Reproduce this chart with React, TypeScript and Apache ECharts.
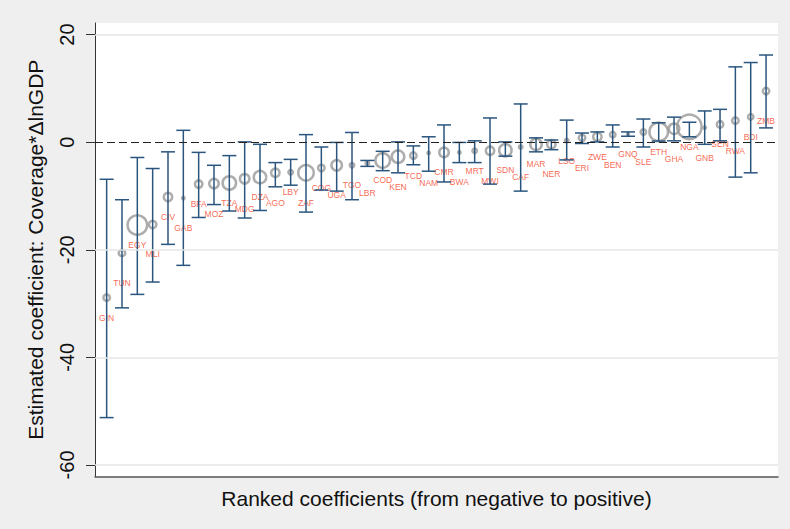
import React, { useEffect, useRef } from "react";
import * as echarts from "echarts";

const countries = [
  "GIN", "TUN", "EGY", "MLI", "CIV", "GAB", "BFA", "MOZ", "TZA", "MDG", "DZA",
  "AGO", "LBY", "ZAF", "COG", "UGA", "TGO", "LBR", "COD", "KEN", "TCD", "NAM",
  "CMR", "BWA", "MRT", "MWI", "SDN", "CAF", "MAR", "NER", "LSO", "ERI", "ZWE",
  "BEN", "GNQ", "SLE", "ETH", "GHA", "NGA", "GNB", "SEN", "RWA", "BDI", "ZMB",
];

const coefficients = [
  -28.9, -20.6, -15.4, -15.3, -10.2, -10.4, -7.8, -7.7, -7.6, -6.8, -6.5,
  -5.7, -5.6, -5.7, -4.8, -4.3, -4.3, -3.9, -3.4, -2.7, -2.5, -2.0,
  -1.9, -1.9, -1.6, -1.6, -1.5, -0.9, -0.4, -0.4, 0.3, 0.8, 1.0,
  1.4, 1.5, 1.9, 1.9, 2.5, 2.85, 2.7, 3.3, 4.0, 4.7, 9.5,
];

const lowerBounds = [
  -51.2, -30.8, -28.3, -26.0, -19.0, -22.9, -14.0, -11.6, -12.8, -14.1, -12.7,
  -8.3, -8.0, -13.0, -8.9, -9.1, -10.7, -4.5, -5.3, -5.7, -4.2, -5.4,
  -7.4, -3.8, -3.8, -7.8, -2.6, -9.1, -1.8, -1.4, -3.3, -0.25, 0.05,
  -0.9, 1.1, -0.9, 0.2, 0.25, 1.0, -0.4, 0.25, -6.5, -5.7, 2.65,
];

const upperBounds = [
  -6.9, -10.7, -2.85, -4.9, -1.8, 2.2, -1.9, -4.3, -2.5, 0.05, -0.4,
  -3.8, -3.2, 1.4, -0.9, -0.05, 1.8, -3.4, -1.7, 0.05, -0.7, 1.0,
  3.2, -0.05, 0.25, 4.5, 0.05, 7.1, 0.8, 0.4, 4.1, 1.7, 1.9,
  3.2, 1.9, 4.3, 3.6, 4.65, 3.7, 5.8, 6.1, 14.0, 14.8, 16.2,
];

// relative weight of each country (marker diameter)
const weights = [
  9, 9, 22, 10, 11, 5, 10, 12, 16, 12, 15,
  11, 7, 18, 9, 13, 7, 6, 17, 15, 9, 5,
  12, 5, 7, 11, 15, 6, 14, 11, 6, 9, 11,
  8, 4, 8, 21, 13, 27, 5, 9, 9, 8, 9,
];

const yTicks = [20, 0, -20, -40, -60];
const gridValues = [20, -20, -40, -60];

const FONT = "'Liberation Sans', Arial, Helvetica, sans-serif";
const WHISKER = "#2a557e";
const MARKER = "#999999";
const LABEL = "#f5411e";

export default function App() {
  const ref = useRef<HTMLDivElement>(null);

  useEffect(() => {
    if (!ref.current) return;
    const chart = echarts.init(ref.current, undefined, { renderer: "svg" });

    const scatterData = countries.map((c, i) => ({
      name: c,
      value: [i + 1, coefficients[i]],
      symbolSize: Math.max(weights[i] - 2.5, 2),
      label: { offset: [0, i % 2 === 0 ? 20 : 30] },
    }));

    const barData = countries.map((c, i) => [i + 1, lowerBounds[i], upperBounds[i]]);

    chart.setOption({
      animation: false,
      backgroundColor: "#efefef",
      textStyle: { fontFamily: FONT },
      grid: {
        left: 95,
        right: 12,
        top: 23,
        bottom: 52.5,
        show: true,
        backgroundColor: "#ffffff",
        borderWidth: 0,
        containLabel: false,
        outerBoundsMode: "none",
      },
      xAxis: {
        type: "value",
        min: 0.24,
        max: 44.78,
        name: "Ranked coefficients (from negative to positive)",
        nameLocation: "middle",
        nameGap: 11,
        nameTextStyle: { fontSize: 21, color: "#111", fontFamily: FONT, verticalAlign: "top" },
        axisLine: { show: true, onZero: false, lineStyle: { color: "#555", width: 1.5 } },
        axisTick: { show: false },
        axisLabel: { show: false },
        splitLine: { show: false },
      },
      yAxis: {
        type: "value",
        min: -62.15,
        max: 22.15,
        name: "Estimated coefficient: Coverage*\u0394lnGDP",
        nameLocation: "middle",
        nameGap: 49,
        nameTextStyle: { fontSize: 21, color: "#111", fontFamily: FONT },
        axisLine: { show: true, onZero: false, lineStyle: { color: "#333", width: 1 } },
        axisTick: {
          show: true,
          length: 9,
          customValues: yTicks,
          lineStyle: { color: "#333", width: 1 },
        },
        axisLabel: {
          show: true,
          customValues: yTicks,
          rotate: 90,
          margin: 18,
          fontSize: 20,
          color: "#111",
          fontFamily: FONT,
          formatter: (v: number) => String(v),
        },
        splitLine: { show: false },
      },
      series: [
        {
          type: "scatter",
          z: 2,
          symbol: "circle",
          data: scatterData,
          itemStyle: { color: "transparent", borderColor: MARKER, borderWidth: 2.5 },
          label: {
            show: true,
            position: "inside",
            formatter: (p: any) => p.name,
            color: LABEL,
            fontSize: 8.5,
            fontFamily: FONT,
          },
          emphasis: { disabled: true },
          markLine: {
            silent: true,
            symbol: "none",
            label: { show: false },
            data: [
              ...gridValues.map((v) => ({
                yAxis: v,
                lineStyle: { color: "#e6e6e6", width: 1.5, type: "solid" },
              })),
              {
                yAxis: 0,
                lineStyle: { color: "#222", width: 1.2, type: [8, 4] },
              },
            ],
          },
        },
        {
          type: "custom",
          z: 3,
          data: barData,
          encode: { x: 0, y: [1, 2] },
          renderItem: (params: any, api: any) => {
            const x = api.value(0);
            const lo = api.coord([x, api.value(1)]);
            const hi = api.coord([x, api.value(2)]);
            const hw = 7;
            const style = { stroke: WHISKER, lineWidth: 1.5 };
            return {
              type: "group",
              children: [
                { type: "line", shape: { x1: lo[0], y1: lo[1], x2: hi[0], y2: hi[1] }, style },
                { type: "line", shape: { x1: lo[0] - hw, y1: lo[1], x2: lo[0] + hw, y2: lo[1] }, style },
                { type: "line", shape: { x1: hi[0] - hw, y1: hi[1], x2: hi[0] + hw, y2: hi[1] }, style },
              ],
            };
          },
        },
      ],
    });

    return () => chart.dispose();
  }, []);

  return (
    <div
      ref={ref}
      style={{ position: "fixed", left: 0, top: 0, width: 790, height: 529 }}
    />
  );
}
